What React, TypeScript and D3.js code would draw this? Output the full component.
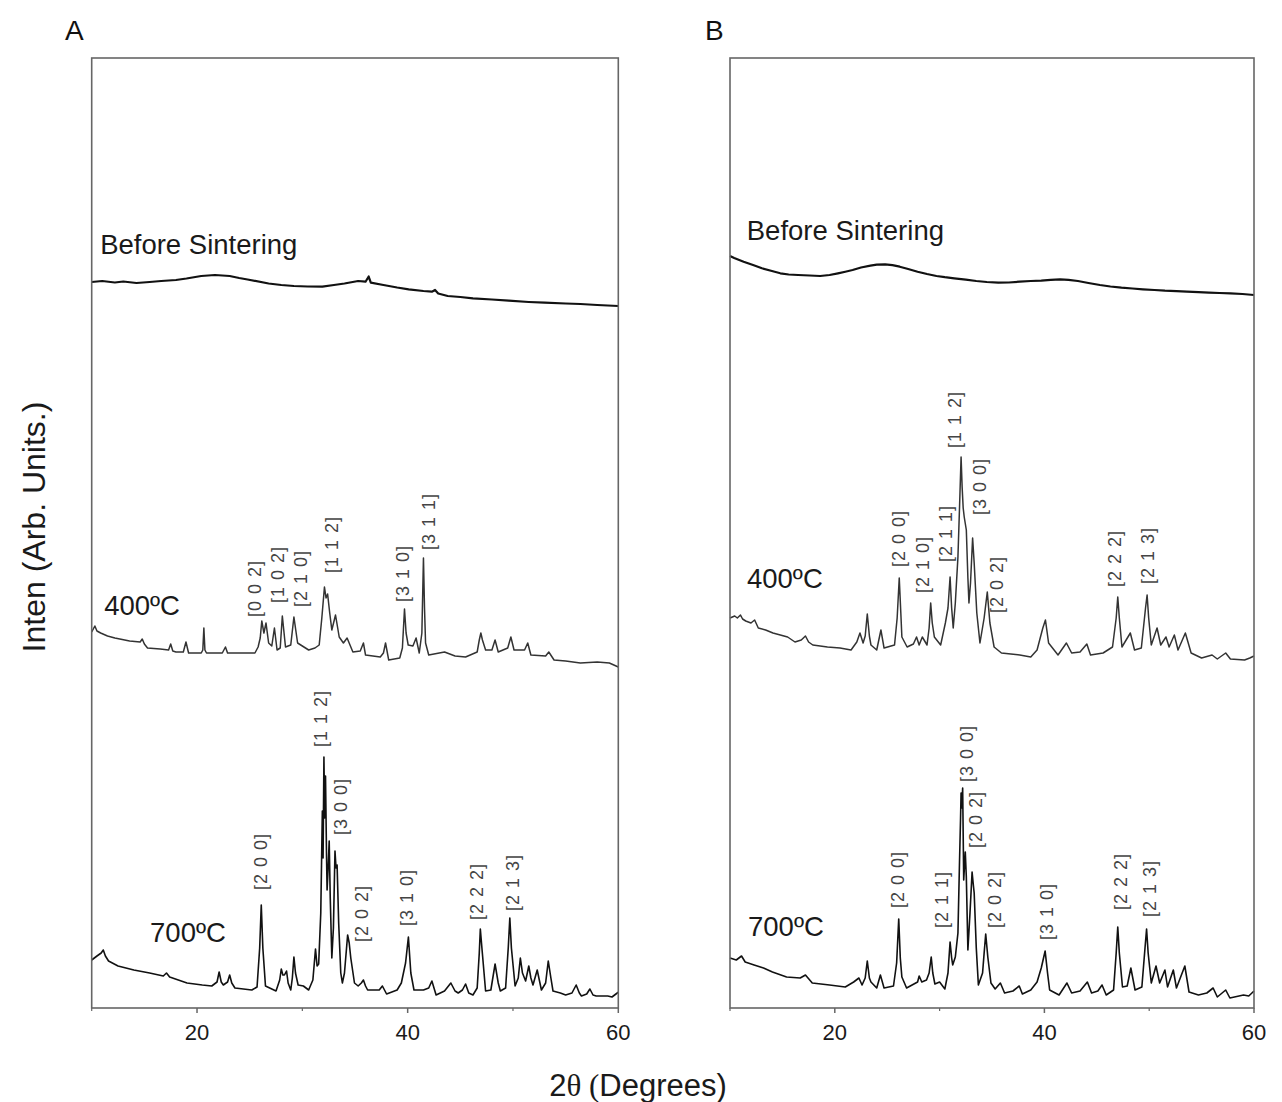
import React from 'react';
import * as d3 from 'd3';

type Pt = [number, number];
type Lbl = [string, number, number];

// ---------- Panel A ----------
const A_BEFORE: Pt[] = [
  [10.0,726],[11,727],[12.2,725.5],[13,726.5],[14.25,725],[15.5,726],[16.6,727],[18,728],[19.0,729.5],[20.4,732],[21.7,733],[22.4,732.5],[23.1,732],[24.0,730],[24.8,728.5],[26.8,724.5],[28,723],[29.2,722],[30.5,721.5],[31.9,721.3],[33,723],[34.0,724.5],[35.3,727],[36.0,726.3],[36.3,731.5],[36.5,725.3],[37.7,723],[39,720.5],[40.1,718.7],[41.5,717],[42.3,716.3],[42.6,718],[42.9,714.5],[43.8,712],[45,711],[46.2,709.7],[48,708.5],[49.6,707.3],[51.5,706],[53.0,705.3],[55,704.5],[56.4,704],[58,703],[60,702],
];

const A_400: Pt[] = [
  [10.0,376],[10.3,382],[10.5,377],[10.85,375],[11.5,372],[12.2,370],[13.6,367],[14.6,366],[14.8,369],[15.0,364],[15.3,360],[16.5,359],[17.3,358],[17.5,364],[17.7,357],[18.0,356],[18.7,356],[18.95,366],[19.2,355],[20.4,355],[20.55,358],[20.65,380],[20.75,358],[20.9,355],[22.4,355],[22.7,361],[22.9,355],[25.5,355],[25.8,361],[26.0,370],[26.15,387],[26.35,375],[26.55,385],[26.8,365],[27.1,362],[27.35,380],[27.6,358],[27.9,360],[28.1,392],[28.4,361],[28.9,363],[29.2,391],[29.55,365],[30.6,358],[31.2,360],[31.6,363],[31.85,390],[32.1,421],[32.25,410],[32.4,414],[32.6,395],[32.8,378],[33.15,393],[33.5,371],[33.9,365],[34.25,370],[34.8,356],[35.5,357],[35.8,365],[36.0,353],[37.4,351],[37.7,355],[37.9,365],[38.2,348],[39.25,350],[39.5,360],[39.7,399],[39.85,375],[40.05,363],[40.5,362],[40.8,370],[41.1,355],[41.35,375],[41.5,450],[41.6,400],[41.7,365],[42.0,353],[43.5,356],[44.5,352],[45.5,351],[46.6,356],[46.8,368],[46.95,375],[47.1,368],[47.4,358],[48.0,358],[48.3,368],[48.6,356],[49.5,360],[49.8,371],[50.1,358],[51.1,358],[51.4,365],[51.7,353],[53.1,352],[53.4,356],[53.9,348],[55,347],[56.4,345],[58,346],[59.15,345],[60,341],
];

const A_700: Pt[] = [
  [10.0,48],[10.5,52],[10.9,55],[11.1,58],[11.3,52],[11.6,47],[12.5,42],[14.0,38],[15.5,35],[16.8,32],[17.1,35],[17.4,31],[19.05,25],[20.5,23],[21.4,22],[21.9,26],[22.1,36],[22.3,26],[22.5,23],[22.9,26],[23.1,33],[23.3,25],[23.6,20],[25.2,18],[25.7,21],[25.95,60],[26.1,103],[26.25,60],[26.5,22],[27.5,17],[27.85,28],[28.0,39],[28.15,33],[28.3,33],[28.5,37],[28.65,25],[28.9,18],[29.05,30],[29.2,51],[29.35,35],[29.6,23],[30.1,22],[30.6,18],[31.0,28],[31.25,59],[31.4,42],[31.55,44],[31.75,95],[31.9,197],[31.97,150],[32.05,251],[32.12,190],[32.2,232],[32.3,150],[32.35,118],[32.45,140],[32.55,167],[32.65,110],[32.8,50],[32.95,80],[33.1,157],[33.2,140],[33.3,143],[33.45,85],[33.65,35],[33.8,25],[34.0,35],[34.3,73],[34.45,65],[34.6,50],[34.95,25],[35.3,22],[35.6,25],[35.8,28],[36.0,22],[36.2,18],[37.3,18],[37.6,22],[38.0,14],[39.0,18],[39.4,25],[39.8,45],[40.07,71],[40.3,35],[40.6,18],[41.5,18],[42.0,20],[42.3,27],[42.7,13],[43.5,17],[44.1,25],[44.5,17],[44.8,15],[45.2,18],[45.5,24],[45.8,15],[46.2,13],[46.6,20],[46.8,55],[46.9,79],[47.05,60],[47.4,17],[47.9,18],[48.3,44],[48.6,25],[48.8,17],[49.3,20],[49.55,60],[49.7,90],[49.85,60],[50.2,22],[50.5,30],[50.7,50],[50.9,35],[51.2,27],[51.5,42],[51.7,30],[51.9,23],[52.3,38],[52.5,28],[52.7,18],[53.1,25],[53.35,47],[53.6,30],[53.8,17],[54.5,15],[55.0,13],[55.6,15],[56.0,23],[56.3,15],[56.5,12],[57.0,14],[57.3,19],[57.6,13],[57.9,12],[59.0,12],[59.4,11],[59.9,15],[60,16],
];

// ---------- Panel B ----------
const B_BEFORE: Pt[] = [
  [10.0,752],[10.4,750],[11.3,746.3],[12.2,743],[13.05,739.7],[14.0,737],[14.8,734.7],[15.6,733.5],[16.5,733],[17.6,732.5],[18.6,732],[19.5,733],[20.3,734.7],[21.0,736.3],[21.7,738],[22.5,740.5],[23.4,742.3],[24.0,743.3],[24.8,743.7],[25.5,742.8],[26.2,741.3],[27.0,739],[27.9,736.3],[28.8,734],[29.7,732],[30.5,730.8],[31.4,729.7],[32.5,728.3],[33.5,727],[34.5,726],[35.6,725.3],[36.6,725.5],[37.65,726.3],[38.7,727],[39.7,727.3],[40.6,728.2],[41.5,728.7],[42.3,728.2],[43.2,727],[44.2,725],[45.3,723],[46.3,721.5],[47.35,720.3],[48.4,719.5],[49.4,718.7],[50.5,718],[51.5,717.3],[52.6,716.8],[53.6,716.3],[54.7,715.8],[55.7,715.3],[56.7,715],[57.75,714.7],[58.9,714],[60,713],
];

const B_400: Pt[] = [
  [10.0,390],[10.45,392],[10.7,390],[11.0,393],[11.2,389],[11.5,387],[12.0,385],[12.35,388],[12.7,380],[13.4,378],[14.1,375],[14.8,373],[15.5,371],[16.2,366],[16.8,368],[17.2,372],[17.5,366],[17.9,363],[19.3,361],[20.5,360],[21.55,358],[22.1,366],[22.4,375],[22.7,365],[22.9,372],[23.1,394],[23.3,372],[23.45,363],[24.0,358],[24.4,378],[24.7,360],[25.7,363],[25.95,390],[26.15,430],[26.3,395],[26.4,371],[26.9,361],[27.5,364],[27.8,371],[28.05,363],[28.35,371],[28.8,363],[29.0,380],[29.15,405],[29.3,385],[29.5,371],[30.1,363],[30.55,385],[30.8,400],[31.0,431],[31.15,400],[31.3,380],[31.5,405],[31.75,451],[31.9,500],[32.05,551],[32.15,521],[32.25,500],[32.35,491],[32.55,478],[32.7,430],[32.8,405],[32.95,425],[33.15,470],[33.3,445],[33.55,395],[33.85,365],[34.25,390],[34.55,416],[34.8,385],[35.2,361],[35.9,355],[36.8,354],[37.65,353],[38.7,351],[39.3,358],[39.55,368],[39.85,380],[40.1,388],[40.4,365],[41.3,353],[42.1,365],[42.6,355],[43.4,356],[44.05,364],[44.4,353],[45.6,355],[46.5,361],[46.85,390],[47.0,411],[47.15,390],[47.4,361],[48.2,375],[48.6,358],[49.25,360],[49.65,400],[49.8,413],[49.95,390],[50.2,363],[50.75,380],[51.1,363],[51.6,371],[51.9,361],[52.4,373],[52.75,358],[53.45,375],[54.0,355],[55.0,350],[56.0,353],[56.5,349],[57.3,355],[57.75,349],[59.1,348],[59.6,350],[60,352],
];

const B_700: Pt[] = [
  [10.0,50],[10.6,48],[11.1,52],[11.45,46],[12.3,43],[13.2,40],[14.05,36],[15.4,31],[16.7,30],[17.2,33],[17.85,25],[19.5,23],[21.0,21],[21.8,26],[22.3,30],[22.6,23],[22.9,30],[23.1,47],[23.3,30],[23.45,26],[24.0,20],[24.35,33],[24.7,20],[25.6,22],[25.9,45],[26.1,89],[26.25,50],[26.4,31],[26.85,20],[27.9,26],[28.05,32],[28.3,26],[28.75,28],[29.0,35],[29.2,51],[29.35,35],[29.55,24],[30.0,26],[30.5,19],[30.8,35],[31.0,66],[31.15,50],[31.25,43],[31.5,51],[31.75,75],[31.9,146],[32.0,190],[32.05,215],[32.12,200],[32.2,220],[32.3,128],[32.45,156],[32.55,131],[32.7,58],[32.9,95],[33.1,136],[33.2,125],[33.3,115],[33.5,60],[33.7,23],[34.1,35],[34.25,55],[34.4,74],[34.6,51],[34.9,25],[35.3,19],[35.8,25],[36.2,15],[37.0,17],[37.6,22],[37.9,14],[38.7,18],[39.3,26],[39.7,40],[40.07,57],[40.3,35],[40.5,18],[41.4,13],[42.15,25],[42.6,15],[43.4,17],[44.1,26],[44.5,15],[45.1,17],[45.5,23],[45.9,13],[46.6,18],[46.85,55],[47.0,81],[47.15,55],[47.45,21],[47.9,22],[48.25,40],[48.65,18],[49.3,21],[49.6,60],[49.75,79],[49.9,55],[50.2,25],[50.65,42],[51.0,25],[51.5,38],[51.75,21],[52.3,38],[52.6,20],[53.4,42],[53.8,16],[54.7,13],[55.5,15],[56.1,20],[56.5,11],[57.3,18],[57.7,10],[59.0,13],[59.5,12],[59.9,16],[60,17],
];

// Miller-index annotations: [text, 2theta, intensity at label foot]
const A_400_HKL: Lbl[] = [
  ['[0 0 2]', 25.5, 391], ['[1 0 2]', 27.7, 405], ['[2 1 0]', 29.9, 401],
  ['[1 1 2]', 32.8, 435], ['[3 1 0]', 39.55, 406], ['[3 1 1]', 42.0, 458],
];
const A_700_HKL: Lbl[] = [
  ['[2 0 0]', 26.07, 118], ['[1 1 2]', 31.8, 261], ['[3 0 0]', 33.65, 173],
  ['[2 0 2]', 35.65, 66], ['[3 1 0]', 39.93, 82], ['[2 2 2]', 46.58, 88], ['[2 1 3]', 49.97, 97],
];
const B_400_HKL: Lbl[] = [
  ['[2 0 0]', 26.1, 441], ['[2 1 0]', 28.4, 415], ['[2 1 1]', 30.6, 446], ['[1 1 2]', 31.47, 560],
  ['[3 0 0]', 33.9, 493], ['[2 0 2]', 35.5, 395], ['[2 2 2]', 46.7, 421], ['[2 1 3]', 49.9, 424],
];
const B_700_HKL: Lbl[] = [
  ['[2 0 0]', 26.0, 100], ['[2 1 1]', 30.2, 80], ['[3 0 0]', 32.6, 226], ['[2 0 2]', 33.5, 160],
  ['[2 0 2]', 35.3, 80], ['[3 1 0]', 40.25, 68], ['[2 2 2]', 47.3, 98], ['[2 1 3]', 50.1, 91],
];

const SERIES_NAMES = ['Before Sintering', '400ºC', '700ºC'];
const MAJOR_TICKS = [20, 40, 60];
const MINOR_TICKS = [10, 30, 50];
const X_DOMAIN: [number, number] = [10, 60];
const Y_DOMAIN: [number, number] = [0, 950];

const SANS = '"Liberation Sans", Arial, Helvetica, sans-serif';

interface PanelProps {
  letter: string;
  left: number;
  right: number;
  series: Pt[][];
  hkl: Lbl[][];
  namePos: Pt[];
  letterX: number;
}

const TOP = 58;
const BOTTOM = 1008;

function Panel({ letter, left, right, series, hkl, namePos, letterX }: PanelProps) {
  const x = d3.scaleLinear().domain(X_DOMAIN).range([left, right]);
  const y = d3.scaleLinear().domain(Y_DOMAIN).range([BOTTOM, TOP]);
  const line = d3.line<Pt>().x(d => x(d[0])).y(d => y(d[1]));
  const strokes = ['#111', '#333', '#111'];
  const widths = [2.2, 1.5, 1.6];
  return (
    <g>
      <text x={letterX} y={40} fontFamily={SANS} fontSize={28} fill="#111">{letter}</text>
      {series.map((s, i) => (
        <path key={i} d={line(s) || ''} fill="none" stroke={strokes[i]} strokeWidth={widths[i]} strokeLinejoin="round" />
      ))}
      {series.map((_, i) => (
        <text key={'n' + i} x={x(namePos[i][0])} y={y(namePos[i][1])} fontFamily={SANS} fontSize={27.5} fill="#1a1a1a">
          {SERIES_NAMES[i]}
        </text>
      ))}
      {hkl.map((group, gi) =>
        group.map((l, li) => (
          <text
            key={gi + '-' + li}
            transform={`translate(${x(l[1])},${y(l[2])}) rotate(-90)`}
            dominantBaseline="central"
            fontFamily={SANS}
            fontSize={18}
            letterSpacing={1}
            fill="#444"
          >
            {l[0]}
          </text>
        ))
      )}
      <rect x={left} y={TOP} width={right - left} height={BOTTOM - TOP} fill="none" stroke="#666" strokeWidth={1.6} />
      {MAJOR_TICKS.map(t => (
        <g key={'M' + t}>
          <line x1={x(t)} x2={x(t)} y1={BOTTOM} y2={BOTTOM + 5} stroke="#666" strokeWidth={1.5} />
          <text x={x(t)} y={1040} textAnchor="middle" fontFamily={SANS} fontSize={22} fill="#1a1a1a">{t}</text>
        </g>
      ))}
      {MINOR_TICKS.map(t => (
        <line key={'m' + t} x1={x(t)} x2={x(t)} y1={BOTTOM} y2={BOTTOM + 3} stroke="#666" strokeWidth={1.2} />
      ))}
    </g>
  );
}

export default function App() {
  return (
    <svg
      width={1282}
      height={1102}
      viewBox="0 0 1282 1102"
      style={{ position: 'absolute', left: 0, top: 0, background: '#fff' }}
    >
      <rect x={0} y={0} width={1282} height={1102} fill="#fff" />
      <Panel
        letter="A"
        letterX={65}
        left={91.7}
        right={618.3}
        series={[A_BEFORE, A_400, A_700]}
        hkl={[A_400_HKL, A_700_HKL]}
        namePos={[[10.8, 754], [11.18, 393], [15.54, 66]]}
      />
      <Panel
        letter="B"
        letterX={705}
        left={730}
        right={1254}
        series={[B_BEFORE, B_400, B_700]}
        hkl={[B_400_HKL, B_700_HKL]}
        namePos={[[11.6, 768], [11.62, 420], [11.72, 72]]}
      />
      <text
        transform="translate(45,527) rotate(-90)"
        textAnchor="middle"
        fontFamily={SANS}
        fontSize={32}
        fill="#1a1a1a"
      >
        Inten (Arb. Units.)
      </text>
      <text x={638} y={1096} textAnchor="middle" fontFamily={SANS} fontSize={31} fill="#1a1a1a">
        2<tspan fontFamily='"Liberation Serif", "DejaVu Serif", serif'>θ (</tspan>Degrees)
      </text>
    </svg>
  );
}
